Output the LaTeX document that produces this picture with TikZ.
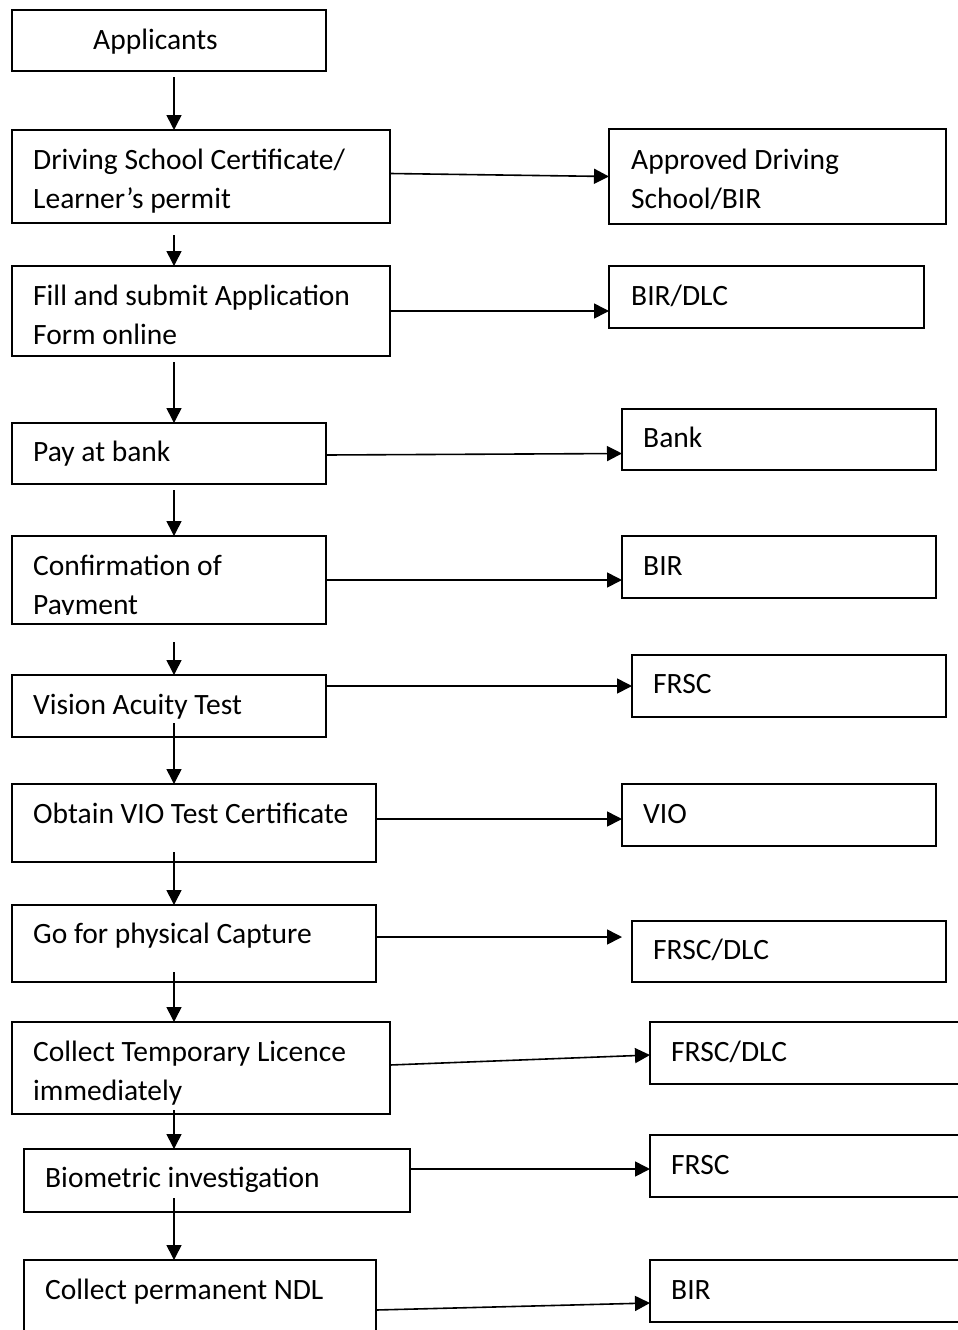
\documentclass[tikz,border=0pt]{standalone}
\usepackage{fontspec}
\setmainfont{Carlito}
\usetikzlibrary{arrows.meta}
\begin{document}
\begin{tikzpicture}[x=1pt,y=-1pt,
  box/.style={draw, line width=1.7pt, anchor=north west, inner sep=0pt, outer sep=0pt},
  lbl/.style={anchor=base west, inner sep=0pt, font=\fontsize{29.5}{39}\selectfont},
  arr/.style={line width=1.6pt, -{Triangle[length=15pt,width=15pt]}}]
\clip (0,0) rectangle (958,1330);
\fill[white] (0,0) rectangle (958,1330);
\coordinate (ax) at (174,0);
% left column boxes
\node[box, minimum width=314pt, minimum height=61pt] (a) at (12,10) {};
\node[box, minimum width=378pt, minimum height=93pt] (d) at (12,130) {};
\node[box, minimum width=378pt, minimum height=90pt] (f) at (12,266) {};
\node[box, minimum width=314pt, minimum height=61pt] (p) at (12,423) {};
\node[box, minimum width=314pt, minimum height=88pt] (c) at (12,536) {};
\node[box, minimum width=314pt, minimum height=62pt] (v) at (12,675) {};
\node[box, minimum width=364pt, minimum height=78pt] (o) at (12,784) {};
\node[box, minimum width=364pt, minimum height=77pt] (g) at (12,905) {};
\node[box, minimum width=378pt, minimum height=92pt] (t) at (12,1022) {};
\node[box, minimum width=386pt, minimum height=63pt] (b) at (24,1149) {};
\node[box, minimum width=352pt, minimum height=90pt] (n) at (24,1260) {};
% right column boxes
\node[box, minimum width=337pt, minimum height=95pt] (r1) at (609,129) {};
\node[box, minimum width=315pt, minimum height=62pt] (r2) at (609,266) {};
\node[box, minimum width=314pt, minimum height=61pt] (r3) at (622,409) {};
\node[box, minimum width=314pt, minimum height=62pt] (r4) at (622,536) {};
\node[box, minimum width=314pt, minimum height=62pt] (r5) at (632,655) {};
\node[box, minimum width=314pt, minimum height=62pt] (r6) at (622,784) {};
\node[box, minimum width=314pt, minimum height=61pt] (r7) at (632,921) {};
\node[box, minimum width=330pt, minimum height=62pt] (r8) at (650,1022) {};
\node[box, minimum width=330pt, minimum height=62pt] (r9) at (650,1135) {};
\node[box, minimum width=330pt, minimum height=62pt] (r10) at (650,1260) {};
% labels left
\node[lbl] (ta) at ([xshift=81pt,yshift=-39pt]a.north west) {Applicants};
\node[lbl] (td) at ([xshift=21pt,yshift=-39pt]d.north west) {\begin{tabular}[t]{@{}l@{}}Driving School Certificate/\\Learner’s permit\end{tabular}};
\node[lbl] (tf) at ([xshift=21pt,yshift=-39pt]f.north west) {\begin{tabular}[t]{@{}l@{}}Fill and submit Application\\Form online\end{tabular}};
\node[lbl] (tp) at ([xshift=21pt,yshift=-38pt]p.north west) {Pay at bank};
\begin{scope}
\clip (0,0) rectangle (958,614);
\node[lbl] (tc) at ([xshift=21pt,yshift=-39pt]c.north west) {\begin{tabular}[t]{@{}l@{}}Confirmation of\\Payment\end{tabular}};
\end{scope}
\node[lbl] (tv) at ([xshift=21pt,yshift=-39pt]v.north west) {Vision Acuity Test};
\node[lbl] (to) at ([xshift=21pt,yshift=-39pt]o.north west) {Obtain VIO Test Certificate};
\node[lbl] (tg) at ([xshift=21pt,yshift=-38pt]g.north west) {Go for physical Capture};
\node[lbl] (tt) at ([xshift=21pt,yshift=-39pt]t.north west) {\begin{tabular}[t]{@{}l@{}}Collect Temporary Licence\\immediately\end{tabular}};
\node[lbl] (tb) at ([xshift=21pt,yshift=-38pt]b.north west) {Biometric investigation};
\node[lbl] (tn) at ([xshift=21pt,yshift=-39pt]n.north west) {Collect permanent NDL};
% labels right
\node[lbl] (tr1) at ([xshift=22pt,yshift=-40pt]r1.north west) {\begin{tabular}[t]{@{}l@{}}Approved Driving\\School/BIR\end{tabular}};
\node[lbl] (tr2) at ([xshift=22pt,yshift=-39pt]r2.north west) {BIR/DLC};
\node[lbl] (tr3) at ([xshift=21pt,yshift=-38pt]r3.north west) {Bank};
\node[lbl] (tr4) at ([xshift=21pt,yshift=-39pt]r4.north west) {BIR};
\node[lbl] (tr5) at ([xshift=21pt,yshift=-38pt]r5.north west) {FRSC};
\node[lbl] (tr6) at ([xshift=21pt,yshift=-39pt]r6.north west) {VIO};
\node[lbl] (tr7) at ([xshift=21pt,yshift=-38pt]r7.north west) {FRSC/DLC};
\node[lbl] (tr8) at ([xshift=21pt,yshift=-39pt]r8.north west) {FRSC/DLC};
\node[lbl] (tr9) at ([xshift=21pt,yshift=-39pt]r9.north west) {FRSC};
\node[lbl] (tr10) at ([xshift=21pt,yshift=-39pt]r10.north west) {BIR};
% vertical connectors
\draw[arr] ([yshift=-6pt]a.south -| ax) -- (d.north -| ax);
\draw[arr] ([yshift=-12pt]d.south -| ax) -- (f.north -| ax);
\draw[arr] ([yshift=-6pt]f.south -| ax) -- (p.north -| ax);
\draw[arr] ([yshift=-6pt]p.south -| ax) -- (c.north -| ax);
\draw[arr] ([yshift=-18pt]c.south -| ax) -- (v.north -| ax);
\draw[arr] ([yshift=14pt]v.south -| ax) -- (o.north -| ax);
\draw[arr] ([yshift=10pt]o.south -| ax) -- (g.north -| ax);
\draw[arr] ([yshift=10pt]g.south -| ax) -- (t.north -| ax);
\draw[arr] ([yshift=4pt]t.south -| ax) -- (b.north -| ax);
\draw[arr] ([yshift=14pt]b.south -| ax) -- (n.north -| ax);
% horizontal connectors
\coordinate (e7) at (622,937);
\draw[arr] ([yshift=3pt]d.east) -- (r1.west);
\draw[arr] (f.east) -- (f.east -| r2.west);
\draw[arr] ([yshift=-1.5pt]p.east) -- (p.east -| r3.west);
\draw[arr] (c.east) -- (c.east -| r4.west);
\draw[arr] (r5.west -| v.east) -- (r5.west);
\draw[arr] ([yshift=4pt]o.east) -- ([yshift=4pt]o.east -| r6.west);
\draw[arr] (g.east |- e7) -- (e7);
\draw[arr] ([yshift=3pt]t.east) -- ([yshift=-2pt]r8.west);
\draw[arr] ([yshift=-3pt]r9.west -| b.east) -- ([yshift=-3pt]r9.west);
\draw[arr] ([yshift=-50pt]n.north east) -- ([yshift=-12pt]r10.west);
\end{tikzpicture}
\end{document}
